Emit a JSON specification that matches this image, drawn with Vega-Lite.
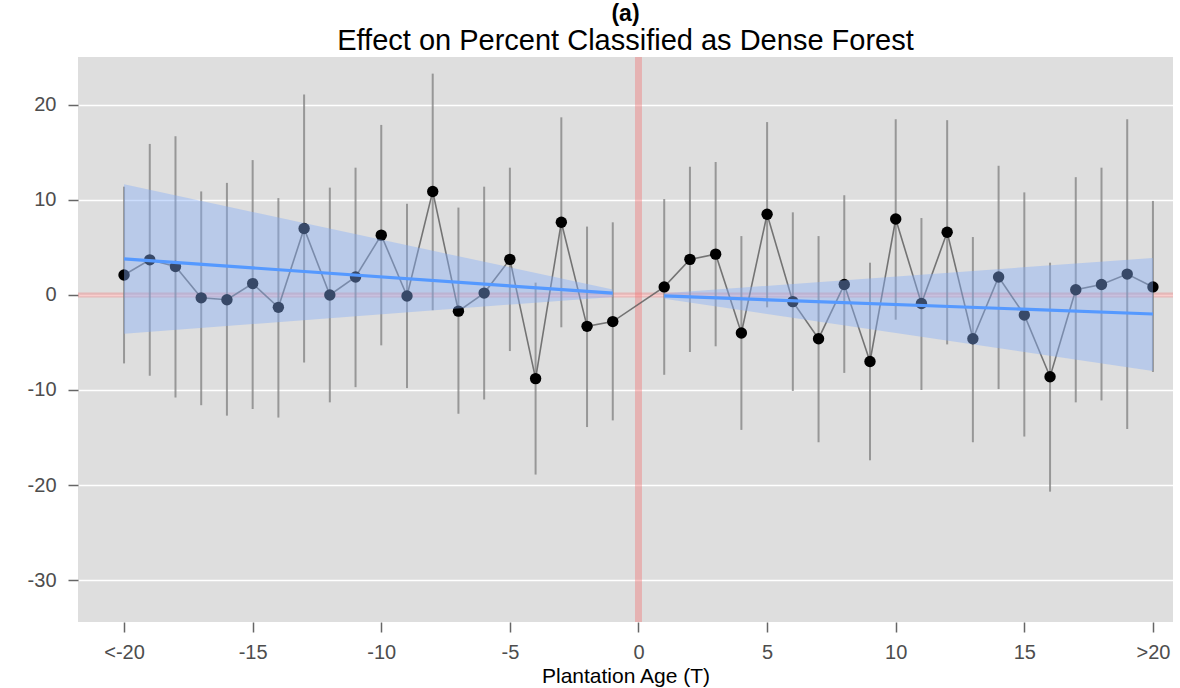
{
  "$schema": "https://vega.github.io/schema/vega-lite/v6.json",
  "width": 1095,
  "height": 565,
  "autosize": {"type": "none"},
  "padding": {"left": 78, "top": 57, "right": 7, "bottom": 66},
  "background": "white",
  "config": {
    "font": "Liberation Sans",
    "view": {"fill": "#dedede", "stroke": null}
  },
  "title": {
    "text": "(a)",
    "subtitle": "Effect on Percent Classified as Dense Forest",
    "fontSize": 23,
    "fontWeight": "bold",
    "color": "black",
    "subtitleFontSize": 29,
    "subtitleColor": "black",
    "subtitlePadding": 1,
    "offset": -2,
    "anchor": "middle"
  },
  "datasets": {
    "est": [
      {"t": -20, "est": 2.1, "lo": -7.2, "hi": 11.4},
      {"t": -19, "est": 3.7, "lo": -8.5, "hi": 15.9},
      {"t": -18, "est": 3.0, "lo": -10.8, "hi": 16.7},
      {"t": -17, "est": -0.3, "lo": -11.6, "hi": 10.9},
      {"t": -16, "est": -0.5, "lo": -12.7, "hi": 11.8},
      {"t": -15, "est": 1.2, "lo": -12.0, "hi": 14.2},
      {"t": -14, "est": -1.3, "lo": -12.9, "hi": 10.2},
      {"t": -13, "est": 7.0, "lo": -7.1, "hi": 21.1},
      {"t": -12, "est": 0.0, "lo": -11.3, "hi": 11.3},
      {"t": -11, "est": 1.9, "lo": -9.7, "hi": 13.4},
      {"t": -10, "est": 6.3, "lo": -5.3, "hi": 17.9},
      {"t": -9, "est": -0.1, "lo": -9.8, "hi": 9.6},
      {"t": -8, "est": 10.9, "lo": -1.6, "hi": 23.3},
      {"t": -7, "est": -1.7, "lo": -12.5, "hi": 9.2},
      {"t": -6, "est": 0.2, "lo": -11.0, "hi": 11.4},
      {"t": -5, "est": 3.75, "lo": -5.9, "hi": 13.4},
      {"t": -4, "est": -8.8, "lo": -18.9, "hi": 1.3},
      {"t": -3, "est": 7.65, "lo": -3.4, "hi": 18.7},
      {"t": -2, "est": -3.3, "lo": -13.9, "hi": 7.2},
      {"t": -1, "est": -2.8, "lo": -13.2, "hi": 7.65},
      {"t": 1, "est": 0.85, "lo": -8.4, "hi": 10.1},
      {"t": 2, "est": 3.75, "lo": -6.0, "hi": 13.5},
      {"t": 3, "est": 4.3, "lo": -5.4, "hi": 14.0},
      {"t": 4, "est": -4.0, "lo": -14.2, "hi": 6.2},
      {"t": 5, "est": 8.5, "lo": -1.3, "hi": 18.2},
      {"t": 6, "est": -0.7, "lo": -10.1, "hi": 8.7},
      {"t": 7, "est": -4.6, "lo": -15.5, "hi": 6.2},
      {"t": 8, "est": 1.1, "lo": -8.2, "hi": 10.5},
      {"t": 9, "est": -7.0, "lo": -17.4, "hi": 3.4},
      {"t": 10, "est": 8.0, "lo": -2.6, "hi": 18.5},
      {"t": 11, "est": -0.9, "lo": -10.0, "hi": 8.1},
      {"t": 12, "est": 6.6, "lo": -5.2, "hi": 18.4},
      {"t": 13, "est": -4.6, "lo": -15.5, "hi": 6.1},
      {"t": 14, "est": 1.9, "lo": -9.9, "hi": 13.6},
      {"t": 15, "est": -2.1, "lo": -14.9, "hi": 10.8},
      {"t": 16, "est": -8.6, "lo": -20.7, "hi": 3.4},
      {"t": 17, "est": 0.55, "lo": -11.3, "hi": 12.4},
      {"t": 18, "est": 1.1, "lo": -11.1, "hi": 13.4},
      {"t": 19, "est": 2.2, "lo": -14.1, "hi": 18.5},
      {"t": 20, "est": 0.85, "lo": -8.1, "hi": 9.9}
    ],
    "fit": [
      {"seg": "pre", "t": -20, "fit": 3.8, "lo": -4.07, "hi": 11.65},
      {"seg": "pre", "t": -1, "fit": 0.19, "lo": -0.2, "hi": 0.58},
      {"seg": "post", "t": 1, "fit": -0.1, "lo": -0.4, "hi": 0.19},
      {"seg": "post", "t": 20, "fit": -2.0, "lo": -8.0, "hi": 3.9}
    ],
    "ref": [{"zero": 0}]
  },
  "layer": [
    {
      "data": {"name": "ref"},
      "mark": {"type": "rule", "color": "#f07070", "opacity": 0.4, "strokeWidth": 7},
      "encoding": {
        "x": {
          "field": "zero",
          "type": "quantitative",
          "scale": {"domain": [-21.79, 20.78], "nice": false, "zero": false},
          "axis": {
            "values": [-20, -15, -10, -5, 0, 5, 10, 15, 20],
            "labelExpr": "datum.value == -20 ? '<-20' : datum.value == 20 ? '>20' : '' + datum.value",
            "grid": false,
            "domain": false,
            "ticks": true,
            "tickSize": 10,
            "tickColor": "#666666",
            "tickWidth": 1.5,
            "labelFontSize": 20,
            "labelColor": "#4d4d4d",
            "labelPadding": 10,
            "title": "Plantation Age (T)",
            "titleFontSize": 21,
            "titleFontWeight": "normal",
            "titleColor": "black",
            "titlePadding": 3
          }
        }
      }
    },
    {
      "data": {"name": "ref"},
      "mark": {"type": "rule", "color": "#f07070", "opacity": 0.35, "strokeWidth": 5},
      "encoding": {
        "y": {
          "field": "zero",
          "type": "quantitative",
          "scale": {"domain": [-34.42, 25.05], "nice": false, "zero": false},
          "axis": {
            "values": [-30, -20, -10, 0, 10, 20],
            "labelExpr": "'' + datum.value",
            "grid": true,
            "gridColor": "white",
            "gridWidth": 1.5,
            "domain": false,
            "tickSize": 10,
            "tickColor": "#666666",
            "tickWidth": 1.5,
            "labelFontSize": 20,
            "labelColor": "#4d4d4d",
            "labelPadding": 12,
            "title": null
          }
        }
      }
    },
    {
      "data": {"name": "est"},
      "mark": {"type": "rule", "color": "#7f7f7f", "strokeWidth": 2, "opacity": 0.75},
      "encoding": {
        "x": {"field": "t", "type": "quantitative"},
        "y": {"field": "lo", "type": "quantitative"},
        "y2": {"field": "hi"}
      }
    },
    {
      "data": {"name": "est"},
      "mark": {"type": "line", "color": "#606060", "strokeWidth": 1.6, "opacity": 0.85},
      "encoding": {
        "x": {"field": "t", "type": "quantitative"},
        "y": {"field": "est", "type": "quantitative"}
      }
    },
    {
      "data": {"name": "est"},
      "mark": {"type": "point", "filled": true, "color": "black", "size": 130, "opacity": 1},
      "encoding": {
        "x": {"field": "t", "type": "quantitative"},
        "y": {"field": "est", "type": "quantitative"}
      }
    },
    {
      "data": {"name": "fit"},
      "mark": {"type": "area", "color": "#86aef8", "opacity": 0.42},
      "encoding": {
        "x": {"field": "t", "type": "quantitative"},
        "y": {"field": "lo", "type": "quantitative"},
        "y2": {"field": "hi"},
        "detail": {"field": "seg"}
      }
    },
    {
      "data": {"name": "fit"},
      "mark": {"type": "line", "color": "#5599ff", "strokeWidth": 3.2},
      "encoding": {
        "x": {"field": "t", "type": "quantitative"},
        "y": {"field": "fit", "type": "quantitative"},
        "detail": {"field": "seg"}
      }
    }
  ],
  "resolve": {"scale": {"x": "shared", "y": "shared"}}
}
